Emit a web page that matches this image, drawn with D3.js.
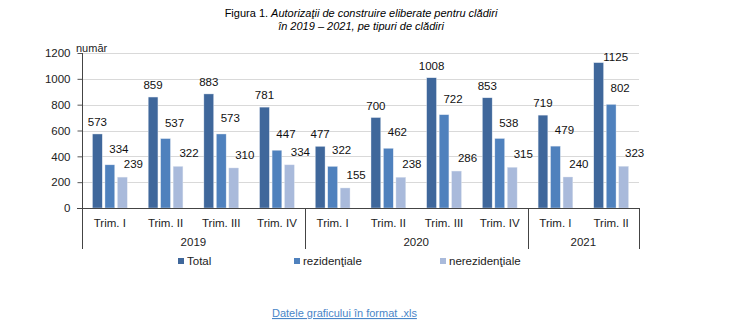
<!DOCTYPE html>
<html><head><meta charset="utf-8">
<script src="https://cdn.jsdelivr.net/npm/d3@7"></script>
<style>
html,body{margin:0;padding:0;background:#fff;}
svg{display:block;font-family:Arial,"Liberation Sans",sans-serif;}
</style></head>
<body>
<svg id="chart" width="740" height="324"></svg>
<script>
const quarters = ["Trim. I","Trim. II","Trim. III","Trim. IV","Trim. I","Trim. II","Trim. III","Trim. IV","Trim. I","Trim. II"];
const years = ["2019","2020","2021"];
const quartersPerYear = [4,4,2];
const seriesNames = ["Total","rezidenţiale","nerezidenţiale"];
const total = [573,859,883,781,477,700,1008,853,719,1125];
const rezidentiale = [334,537,573,447,322,462,722,538,479,802];
const nerezidentiale = [239,322,310,334,155,238,286,315,240,323];
const yTicks = [0,200,400,600,800,1000,1200];

const colors = ["#3f679b","#4f81bd","#a9badb"];
const series = [total, rezidentiale, nerezidentiale];

const svg = d3.select("#chart");
const L = 82, R = 639, T = 53, B = 208;

const y = d3.scaleLinear().domain([0,1200]).range([B,T]);
const x0 = d3.scaleBand().domain(d3.range(quarters.length)).range([L,R]).padding(0);
const x1 = d3.scaleBand().domain(d3.range(3)).range([10.5, 45.2]).paddingInner(0.22);

// title
const title = svg.append("text").attr("x",361).attr("y",17).attr("text-anchor","middle")
  .attr("font-size",11).attr("fill","#000");
title.append("tspan").text("Figura 1. ");
title.append("tspan").attr("font-style","italic").text("Autorizaţii de construire eliberate pentru clădiri");
svg.append("text").attr("x",361).attr("y",30).attr("text-anchor","middle")
  .attr("font-size",11).attr("font-style","italic").attr("fill","#000")
  .text("în 2019 – 2021, pe tipuri de clădiri");

// gridlines
svg.append("g").selectAll("line").data(yTicks.filter(d=>d>0)).join("line")
  .attr("x1",L).attr("x2",R).attr("y1",d=>Math.round(y(d))+0.5).attr("y2",d=>Math.round(y(d))+0.5)
  .attr("stroke","#d9d9d9").attr("stroke-width",1);

// y axis
const yAxis = d3.axisLeft(y).tickValues(yTicks).tickFormat(d3.format("d")).tickSize(5).tickPadding(7);
const gy = svg.append("g").attr("transform",`translate(${L+0.5},0)`).call(yAxis);
gy.select(".domain").remove();
gy.selectAll(".tick line").attr("stroke","#555");
gy.selectAll(".tick text").attr("font-size",11.5).attr("fill","#222").attr("font-family","Arial, Liberation Sans, sans-serif");

svg.append("text").attr("x",76).attr("y",52).attr("font-size",11).attr("fill","#222").text("numār");

// bars
series.forEach((vals,si)=>{
  svg.append("g").selectAll("rect").data(vals).join("rect")
    .attr("x",(d,i)=>x0(i)+x1(si))
    .attr("width",x1.bandwidth())
    .attr("y",d=>y(d))
    .attr("height",d=>B-y(d))
    .attr("fill",colors[si])
    .attr("stroke","#dfe6f0").attr("stroke-width",0.4);
});

// labels
const offs = [{dx:0,dy:-8},{dx:9,dy:-12},{dx:11,dy:-9}];
series.forEach((vals,si)=>{
  svg.append("g").selectAll("text").data(vals).join("text")
    .attr("x",(d,i)=>{
      const cx = x0(i)+x1(si)+x1.bandwidth()/2;
      if (y(d)+offs[si].dy-10 < T) return cx+17;
      return cx+offs[si].dx;
    })
    .attr("y",d=>{
      if (y(d)+offs[si].dy-10 < T) return y(d)-2;
      return y(d)+offs[si].dy;
    })
    .attr("text-anchor","middle").attr("font-size",11.5).attr("fill","#111")
    .text(d=>d);
});

// x axis line
svg.append("line").attr("x1",L-5).attr("x2",R).attr("y1",B+0.5).attr("y2",B+0.5).attr("stroke","#444");
// vertical lines: left axis (full height), separators and right border (below axis only)
const sepIdx = [0];
let acc=0; quartersPerYear.forEach(n=>{acc+=n; sepIdx.push(acc);});
svg.append("g").selectAll("line").data(sepIdx).join("line")
  .attr("x1",d=>Math.round(d<quarters.length?x0(d):R)+0.5)
  .attr("x2",d=>Math.round(d<quarters.length?x0(d):R)+0.5)
  .attr("y1",d=> d===0 ? T : B)
  .attr("y2",249).attr("stroke","#444");

// quarter labels
svg.append("g").selectAll("text").data(quarters).join("text")
  .attr("x",(d,i)=>x0(i)+x0.bandwidth()/2).attr("y",227)
  .attr("text-anchor","middle").attr("font-size",11.5).attr("fill","#222").text(d=>d);
// year labels
let start=0;
years.forEach((yr,k)=>{
  const a = x0(start), b = start+quartersPerYear[k] < quarters.length ? x0(start+quartersPerYear[k]) : R;
  svg.append("text").attr("x",(a+b)/2).attr("y",246).attr("text-anchor","middle")
    .attr("font-size",11.5).attr("fill","#222").text(yr);
  start += quartersPerYear[k];
});

// legend
const legX = [178,294,440];
seriesNames.forEach((n,i)=>{
  svg.append("rect").attr("x",legX[i]).attr("y",258).attr("width",6).attr("height",6).attr("fill",colors[i]);
  svg.append("text").attr("x",legX[i]+9).attr("y",265).attr("font-size",11.5).attr("fill","#222").text(n);
});

// link
svg.append("text").attr("x",272).attr("y",317).attr("font-size",11).attr("fill","#4a86c8")
  .attr("text-decoration","underline").text("Datele graficului în format .xls");
</script>
</body></html>
